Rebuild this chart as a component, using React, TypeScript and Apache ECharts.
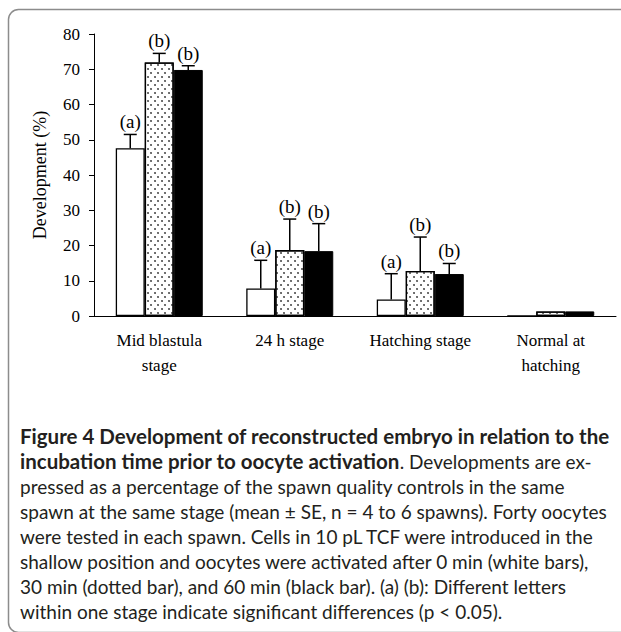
import React, { useEffect, useRef } from "react";
import * as echarts from "echarts";

const categories = ["Mid blastula\nstage", "24 h stage", "Hatching stage", "Normal at\nhatching"];
const yTicks = { min: 0, max: 80, interval: 10 };
const seriesNames = ["0 min", "30 min", "60 min"];
const values0 = [47.6, 7.8, 4.7, 0];
const values30 = [71.9, 18.7, 12.8, 1.3];
const values60 = [69.8, 18.4, 11.9, 1.3];
const errors0 = [3.9, 8.0, 7.3, 0];
const errors30 = [2.6, 8.8, 9.6, 0];
const errors60 = [1.2, 7.8, 3.0, 0];
const letters0 = ["(a)", "(a)", "(a)", ""];
const letters30 = ["(b)", "(b)", "(b)", ""];
const letters60 = ["(b)", "(b)", "(b)", ""];

const captionBold1 = "Figure 4 Development of reconstructed embryo in relation to the";
const captionBold2 = "incubation time prior to oocyte activation";
const captionRest2 = ". Developments are ex-";
const captionLines = [
  "pressed as a percentage of the spawn quality controls in the same",
  "spawn at the same stage (mean \u00b1 SE, n = 4 to 6 spawns). Forty oocytes",
  "were tested in each spawn. Cells in 10 pL TCF were introduced in the",
  "shallow position and oocytes were activated after 0 min (white bars),",
  "30 min (dotted bar), and 60 min (black bar). (a) (b): Different letters",
  "within one stage indicate significant differences (p < 0.05).",
];

const SERIF = "'Liberation Serif', 'Times New Roman', serif";
const SANS = "Lato, 'Noto Sans', sans-serif";
const BAR_W = 29;

export default function App() {
  const ref = useRef<HTMLDivElement>(null);
  useEffect(() => {
    if (!ref.current) return;
    const chart = echarts.init(ref.current, undefined, { renderer: "svg" });
    const values = [values0, values30, values60];
    const errors = [errors0, errors30, errors60];
    const letters = [letters0, letters30, letters60];
    const errData: number[][] = [];
    values.forEach((vals, g) => {
      vals.forEach((v, i) => errData.push([i, v, errors[g][i], g]));
    });

    const captionY0 = 436;
    const lh = 25;
    const graphics: any[] = [
      {
        type: "rect",
        left: 6,
        top: 7,
        shape: { width: 650, height: 623, r: 10 },
        style: { fill: "none", stroke: "#8c8c8c", lineWidth: 1.5 },
        z: 0,
      },
      {
        type: "text",
        x: 20,
        y: captionY0,
        style: {
          text: captionBold1,
          font: `bold 20.5px ${SANS}`,
          fill: "#231f20",
          verticalAlign: "middle",
        },
      },
      {
        type: "text",
        x: 20,
        y: captionY0 + lh,
        style: {
          text: `{b|${captionBold2}}{n|${captionRest2}}`,
          verticalAlign: "middle",
          rich: {
            b: { fontFamily: SANS, fontWeight: "bold", fontSize: 20.5, fill: "#231f20" } as any,
            n: { fontFamily: SANS, fontSize: 19, fill: "#231f20" } as any,
          },
        },
      },
      ...captionLines.map((t, k) => ({
        type: "text",
        x: 20,
        y: captionY0 + lh * (k + 2),
        style: { text: t, font: `19px ${SANS}`, fill: "#231f20", verticalAlign: "middle" },
      })),
    ];

    chart.setOption({
      animation: false,
      grid: { left: 94, right: 5, top: 34, bottom: 316, containLabel: false },
      xAxis: {
        type: "category",
        data: categories,
        axisLine: { lineStyle: { color: "#000", width: 1 } },
        axisTick: { show: false },
        axisLabel: {
          interval: 0,
          fontFamily: SERIF,
          fontSize: 17,
          color: "#000",
          margin: 12,
          lineHeight: 25,
        },
      },
      yAxis: {
        type: "value",
        min: yTicks.min,
        max: yTicks.max,
        interval: yTicks.interval,
        axisLine: { show: true, lineStyle: { color: "#000", width: 1 } },
        axisTick: { show: true, length: 5, lineStyle: { color: "#000" } },
        splitLine: { show: false },
        axisLabel: { fontFamily: SERIF, fontSize: 17, color: "#000", margin: 14 },
        name: "Development (%)",
        nameLocation: "middle",
        nameGap: 45,
        nameTextStyle: { fontFamily: SERIF, fontSize: 18, color: "#000" },
      },
      series: [
        {
          name: seriesNames[0],
          type: "bar",
          data: values0,
          barWidth: BAR_W,
          barGap: "0%",
          itemStyle: { color: "#fff", borderColor: "#000", borderWidth: 1.3 },
        },
        {
          name: seriesNames[1],
          type: "bar",
          data: values30,
          barWidth: BAR_W,
          barGap: "0%",
          itemStyle: {
            color: "#fff",
            borderColor: "#000",
            borderWidth: 1.3,
            decal: {
              symbol: "circle",
              symbolSize: 0.8,
              color: "#222",
              dashArrayX: [[2, 5], [0, 3, 2, 2]],
              dashArrayY: [2, 2],
              rotation: 0,
            },
          },
        },
        {
          name: seriesNames[2],
          type: "bar",
          data: values60,
          barWidth: BAR_W,
          barGap: "0%",
          itemStyle: { color: "#000", borderColor: "#000", borderWidth: 1 },
        },
        {
          type: "custom",
          data: errData,
          z: 10,
          renderItem: (params: any, api: any) => {
            const cat = api.value(0);
            const v = api.value(1);
            const e = api.value(2);
            const g = api.value(3);
            if (!e) return null;
            const base = api.coord([cat, v]);
            const top = api.coord([cat, v + e]);
            const x = base[0] + (g - 1) * BAR_W;
            const letter = letters[g][cat];
            return {
              type: "group",
              children: [
                {
                  type: "line",
                  shape: { x1: x, y1: base[1], x2: x, y2: top[1] },
                  style: { stroke: "#000", lineWidth: 1.5 },
                },
                {
                  type: "line",
                  shape: { x1: x - 6.5, y1: top[1], x2: x + 6.5, y2: top[1] },
                  style: { stroke: "#000", lineWidth: 1.5 },
                },
                {
                  type: "text",
                  x: x,
                  y: top[1] - 3,
                  style: {
                    text: letter,
                    font: `19px ${SERIF}`,
                    fill: "#000",
                    align: "center",
                    verticalAlign: "bottom",
                  },
                },
              ],
            };
          },
        },
      ],
      graphic: graphics,
    });
    return () => chart.dispose();
  }, []);
  return (
    <div
      ref={ref}
      style={{ position: "fixed", left: 0, top: 0, width: 621, height: 632, background: "#fff" }}
    />
  );
}
